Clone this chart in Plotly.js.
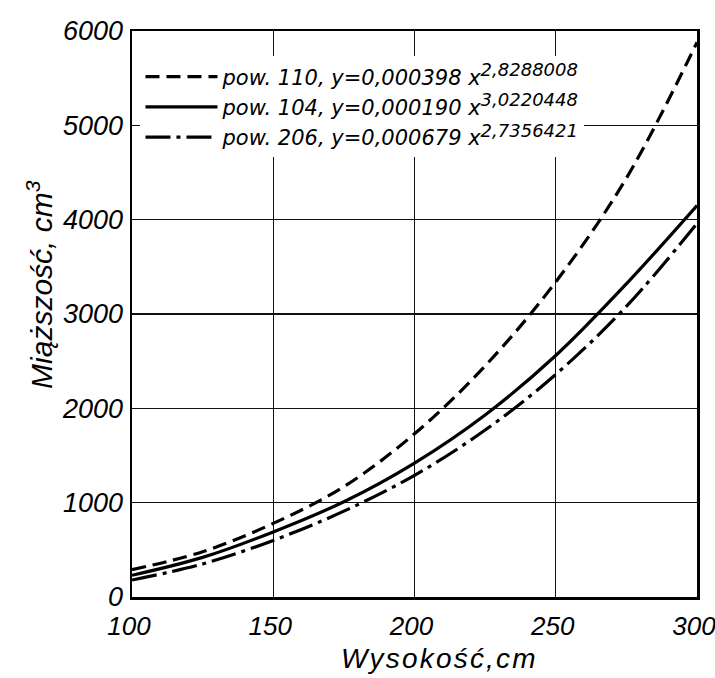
<!DOCTYPE html>
<html>
<head>
<meta charset="utf-8">
<script src="https://cdn.plot.ly/plotly-3.0.1.min.js"></script>
<style>
html,body{margin:0;padding:0;background:#fff;}
#chart{width:715px;height:678px;}
#chart g.annotation[data-index="0"] text{letter-spacing:2.2px;}
</style>
</head>
<body>
<div id="chart"></div>
<script>
// Data
const heights = [100, 125, 150, 175, 200, 225, 250, 275, 300];
const pow110 = [290, 480, 780, 1170, 1730, 2450, 3340, 4440, 5880];
const pow104 = [230, 420, 690, 1010, 1420, 1930, 2560, 3320, 4150];
const pow206 = [180, 350, 600, 910, 1290, 1770, 2360, 3080, 3960];
const seriesNames = [
  'pow. 110, y=0,000398 x<sup><span style="font-size:18px">2,8288008</span></sup>',
  'pow. 104, y=0,000190 x<sup><span style="font-size:18px">3,0220448</span></sup>',
  'pow. 206, y=0,000679 x<sup><span style="font-size:18px">2,7356421</span></sup>'
];
const xTickVals = [100, 150, 200, 250, 300];
const yTickVals = [0, 1000, 2000, 3000, 4000, 5000, 6000];
const xTitle = 'Wysokość,cm';
const yTitle = 'Miąższość, cm<sup>3</sup>';

const FONT = 'Liberation Sans, Arial, sans-serif';
const LFONT = 'DejaVu Sans, Liberation Sans, sans-serif';

const traces = [
  {x: heights, y: pow110, name: seriesNames[0], mode: 'lines',
   line: {color: '#000', width: 3.2, dash: '14px,7px', shape: 'spline', smoothing: 1}},
  {x: heights, y: pow104, name: seriesNames[1], mode: 'lines',
   line: {color: '#000', width: 3.2, dash: 'solid', shape: 'spline', smoothing: 1}},
  {x: heights, y: pow206, name: seriesNames[2], mode: 'lines',
   line: {color: '#000', width: 3.2, dash: '25px,6px,4px,6px', shape: 'spline', smoothing: 1}}
];

const layout = {
  width: 715, height: 678,
  margin: {l: 132, r: 18, t: 31, b: 81},
  paper_bgcolor: '#fff', plot_bgcolor: '#fff',
  showlegend: true,
  legend: {
    x: 0.015, y: 0.955, xanchor: 'left', yanchor: 'top',
    bgcolor: '#fff', borderwidth: 0,
    font: {family: LFONT, size: 21, color: '#000', style: 'italic'},
    itemwidth: 72, tracegroupgap: 0
  },
  xaxis: {
    range: [100, 300], tickvals: xTickVals, ticks: '',
    showgrid: true, gridcolor: '#111', gridwidth: 1.3,
    showline: true, linecolor: '#000', linewidth: 2.5, mirror: true,
    zeroline: false,
    tickfont: {family: FONT, size: 26, color: '#000', style: 'italic'},
    ticklabelstandoff: 4, ticklabelshift: -3, ticklabeloverflow: 'allow',
    automargin: false
  },
  yaxis: {
    range: [0, 6000], tickvals: yTickVals, ticks: '',
    showgrid: true, gridcolor: '#111', gridwidth: 1.3,
    showline: true, linecolor: '#000', linewidth: 2.5, mirror: true,
    zeroline: false,
    tickfont: {family: FONT, size: 27, color: '#000', style: 'italic'},
    ticklabelstandoff: 1, ticklabeloverflow: 'allow',
    automargin: false
  },
  annotations: [
    {text: xTitle, xref: 'paper', yref: 'paper', x: 0.545, y: -0.108,
     xanchor: 'center', yanchor: 'middle', showarrow: false,
     font: {family: FONT, size: 28, color: '#000', style: 'italic'}},
    {text: yTitle, xref: 'paper', yref: 'paper', x: -0.163, y: 0.553,
     xanchor: 'center', yanchor: 'middle', showarrow: false, textangle: -90,
     font: {family: FONT, size: 30, color: '#000', style: 'italic'}}
  ]
};

Plotly.newPlot('chart', traces, layout, {displayModeBar: false, staticPlot: true});
</script>
</body>
</html>
